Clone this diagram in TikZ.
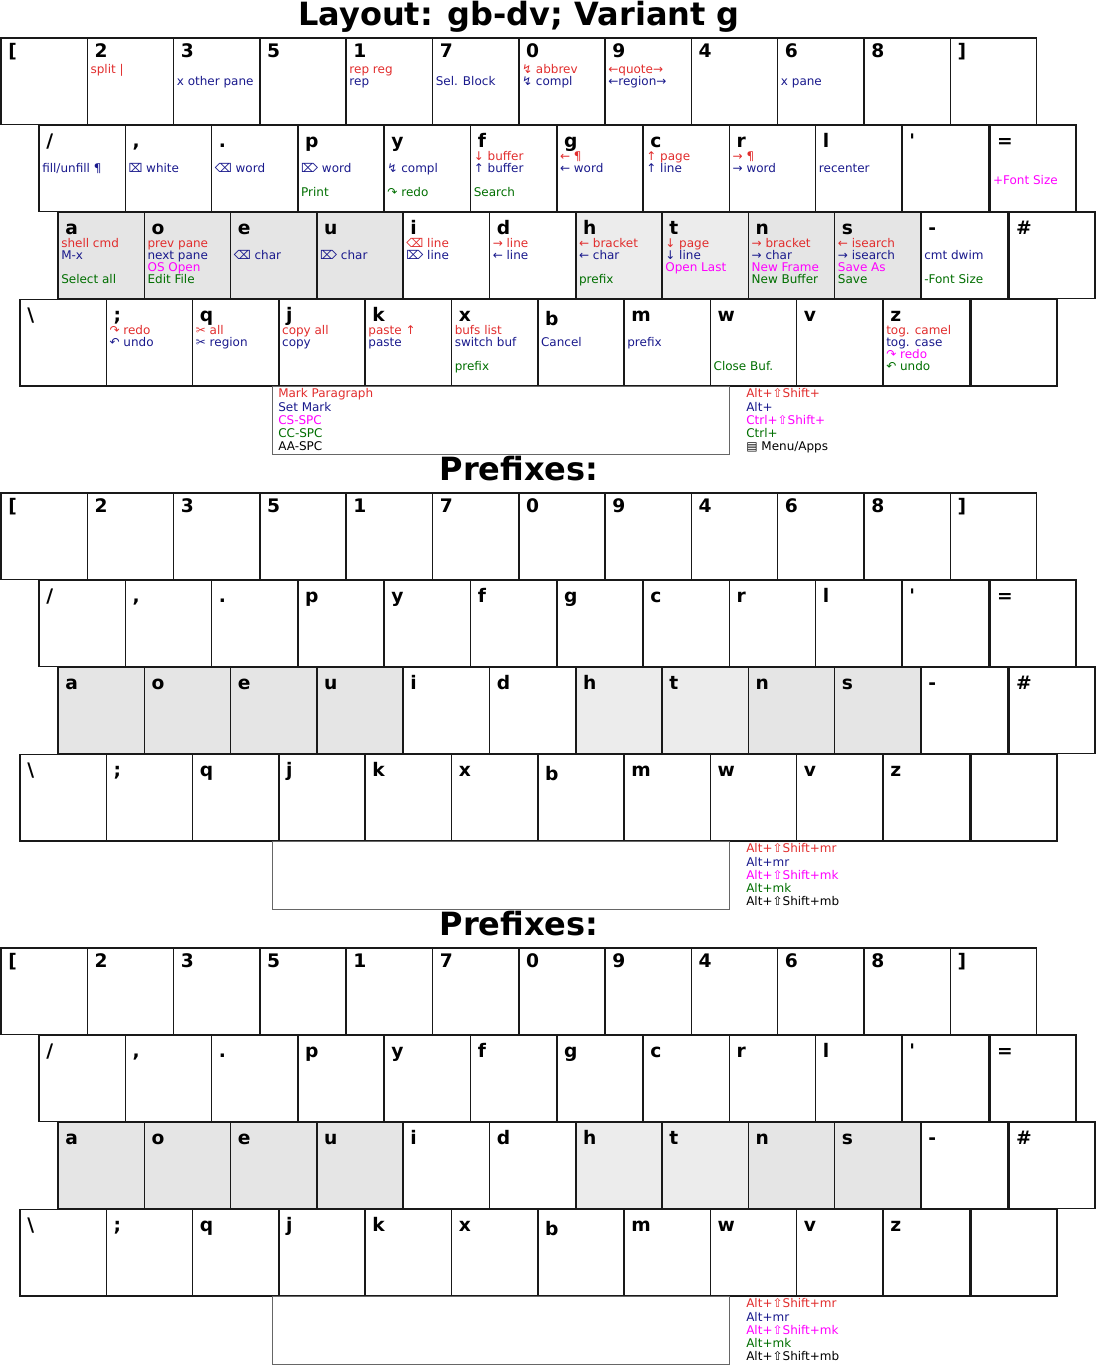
\documentclass[tikz,border=0pt]{standalone}
\usepackage{fontspec}
\setmainfont{DejaVu Sans}
\usetikzlibrary{positioning}
\definecolor{kred}{RGB}{225,45,45}
\definecolor{kblue}{RGB}{25,25,140}
\definecolor{kmag}{RGB}{255,0,255}
\definecolor{kgreen}{RGB}{0,110,0}
\definecolor{homea}{RGB}{229,229,229}
\definecolor{homeb}{RGB}{236,236,236}
% text line #2 of key #1
\newcommand{\ktext}[4]{%
  \node[keytext,#3] (#1-t#2) at ([shift={(3,23+12*#2)}]#1.north west) {#4};}

\begin{document}
\begin{tikzpicture}[x=0.75pt, y=-0.75pt,
  key/.style={draw=black!90, line width=1.1pt, minimum width=64.7pt,
    minimum height=64.9pt, inner sep=0pt, outer sep=0pt, anchor=north west},
  keylabel/.style={anchor=base west, inner sep=0pt,
    font=\bfseries\fontsize{14}{16}\selectfont},
  keytext/.style={anchor=base west, inner sep=0pt,
    font=\fontsize{9}{11}\selectfont},
  spacebar/.style={draw=black!60, line width=0.6pt, minimum width=342.8pt,
    minimum height=51pt, inner sep=0pt, anchor=north west},
  title/.style={anchor=base, inner sep=0pt,
    font=\bfseries\fontsize{24}{27}\selectfont}]
  \useasboundingbox (0,0) rectangle (1096,1365);

  % titles
  \node[title] (title) at (519,25) {Layout: gb-dv; Variant g};
  \node[title] (pre1) at (519,480) {Prefixes:};
  \node[title] (pre2) at (519,935) {Prefixes:};

  % three keyboards
  \foreach \s in {0,1,2}{
    \pgfmathsetmacro{\dy}{455*\s}
    \foreach \lab [count=\c] in {[,2,3,5,1,7,0,9,4,6,8,]}{
      \node[key] (k\s-1-\c) at ({1+86.3*(\c-1)},{38+\dy}) {};
      \node[keylabel] (k\s-1-\c-l) at ([shift={(7,19)}]k\s-1-\c.north west) {\lab};
    }
    \foreach \lab [count=\c] in {{/},{,},.,p,y,f,g,c,r,l,\textquotesingle,=}{
      \node[key] (k\s-2-\c) at ({39+86.3*(\c-1)+1.5*(\c==12)},{125+\dy}) {};
      \node[keylabel] (k\s-2-\c-l) at ([shift={(7,22)}]k\s-2-\c.north west) {\lab};
    }
    \foreach \lab/\f [count=\c] in {a/homea,o/homea,e/homea,u/homea,i/white,
        d/white,h/homeb,t/homeb,n/homea,s/homea,-/white,\#/white}{
      \node[key,fill=\f] (k\s-3-\c) at ({58+86.3*(\c-1)+1.5*(\c==12)},{212+\dy}) {};
      \node[keylabel] (k\s-3-\c-l) at ([shift={(7,22)}]k\s-3-\c.north west) {\lab};
    }
    \foreach \lab/\o [count=\c] in {\textbackslash/0,;/0,q/0,j/0,k/0,x/0,b/4,
        m/0,w/0,v/0,z/0,{}/0}{
      \node[key] (k\s-4-\c) at ({20+86.3*(\c-1)+1.5*(\c==12)},{299.5+\dy}) {};
      \node[keylabel] (k\s-4-\c-l) at ([shift={(7,22+\o)}]k\s-4-\c.north west) {\lab};
    }
    \node[spacebar] (sp\s) at (272,{386+\dy}) {};
  }

  % row 1
  \ktext{k0-1-2}{1}{kred}{split |}
  \ktext{k0-1-3}{2}{kblue}{x other pane}
  \ktext{k0-1-5}{1}{kred}{rep reg}
  \ktext{k0-1-5}{2}{kblue}{rep}
  \ktext{k0-1-6}{2}{kblue}{Sel. Block}
  \ktext{k0-1-7}{1}{kred}{↯ abbrev}
  \ktext{k0-1-7}{2}{kblue}{↯ compl}
  \ktext{k0-1-8}{1}{kred}{←quote→}
  \ktext{k0-1-8}{2}{kblue}{←region→}
  \ktext{k0-1-10}{2}{kblue}{x pane}
  % row 2
  \ktext{k0-2-1}{2}{kblue}{fill/unfill ¶}
  \ktext{k0-2-2}{2}{kblue}{⌧ white}
  \ktext{k0-2-3}{2}{kblue}{⌫ word}
  \ktext{k0-2-4}{2}{kblue}{⌦ word}
  \ktext{k0-2-4}{4}{kgreen}{Print}
  \ktext{k0-2-5}{2}{kblue}{↯ compl}
  \ktext{k0-2-5}{4}{kgreen}{↷ redo}
  \ktext{k0-2-6}{1}{kred}{↓ buffer}
  \ktext{k0-2-6}{2}{kblue}{↑ buffer}
  \ktext{k0-2-6}{4}{kgreen}{Search}
  \ktext{k0-2-7}{1}{kred}{← ¶}
  \ktext{k0-2-7}{2}{kblue}{← word}
  \ktext{k0-2-8}{1}{kred}{↑ page}
  \ktext{k0-2-8}{2}{kblue}{↑ line}
  \ktext{k0-2-9}{1}{kred}{→ ¶}
  \ktext{k0-2-9}{2}{kblue}{→ word}
  \ktext{k0-2-10}{2}{kblue}{recenter}
  \ktext{k0-2-12}{3}{kmag}{+Font Size}
  % row 3
  \ktext{k0-3-1}{1}{kred}{shell cmd}
  \ktext{k0-3-1}{2}{kblue}{M-x}
  \ktext{k0-3-1}{4}{kgreen}{Select all}
  \ktext{k0-3-2}{1}{kred}{prev pane}
  \ktext{k0-3-2}{2}{kblue}{next pane}
  \ktext{k0-3-2}{3}{kmag}{OS Open}
  \ktext{k0-3-2}{4}{kgreen}{Edit File}
  \ktext{k0-3-3}{2}{kblue}{⌫ char}
  \ktext{k0-3-4}{2}{kblue}{⌦ char}
  \ktext{k0-3-5}{1}{kred}{⌫ line}
  \ktext{k0-3-5}{2}{kblue}{⌦ line}
  \ktext{k0-3-6}{1}{kred}{→ line}
  \ktext{k0-3-6}{2}{kblue}{← line}
  \ktext{k0-3-7}{1}{kred}{← bracket}
  \ktext{k0-3-7}{2}{kblue}{← char}
  \ktext{k0-3-7}{4}{kgreen}{prefix}
  \ktext{k0-3-8}{1}{kred}{↓ page}
  \ktext{k0-3-8}{2}{kblue}{↓ line}
  \ktext{k0-3-8}{3}{kmag}{Open Last}
  \ktext{k0-3-9}{1}{kred}{→ bracket}
  \ktext{k0-3-9}{2}{kblue}{→ char}
  \ktext{k0-3-9}{3}{kmag}{New Frame}
  \ktext{k0-3-9}{4}{kgreen}{New Buffer}
  \ktext{k0-3-10}{1}{kred}{← isearch}
  \ktext{k0-3-10}{2}{kblue}{→ isearch}
  \ktext{k0-3-10}{3}{kmag}{Save As}
  \ktext{k0-3-10}{4}{kgreen}{Save}
  \ktext{k0-3-11}{2}{kblue}{cmt dwim}
  \ktext{k0-3-11}{4}{kgreen}{-Font Size}
  % row 4
  \ktext{k0-4-2}{1}{kred}{↷ redo}
  \ktext{k0-4-2}{2}{kblue}{↶ undo}
  \ktext{k0-4-3}{1}{kred}{✂ all}
  \ktext{k0-4-3}{2}{kblue}{✂ region}
  \ktext{k0-4-4}{1}{kred}{copy all}
  \ktext{k0-4-4}{2}{kblue}{copy}
  \ktext{k0-4-5}{1}{kred}{paste ↑}
  \ktext{k0-4-5}{2}{kblue}{paste}
  \ktext{k0-4-6}{1}{kred}{bufs list}
  \ktext{k0-4-6}{2}{kblue}{switch buf}
  \ktext{k0-4-6}{4}{kgreen}{prefix}
  \ktext{k0-4-7}{2}{kblue}{Cancel}
  \ktext{k0-4-8}{2}{kblue}{prefix}
  \ktext{k0-4-9}{4}{kgreen}{Close Buf.}
  \ktext{k0-4-11}{1}{kred}{tog. camel}
  \ktext{k0-4-11}{2}{kblue}{tog. case}
  \ktext{k0-4-11}{3}{kmag}{↷ redo}
  \ktext{k0-4-11}{4}{kgreen}{↶ undo}

  % space bar and modifier legend
  \node[keytext,kred] (sp0-1) at (278,397) {Mark Paragraph};
  \node[keytext,kblue] (sp0-2) at (278,411) {Set Mark};
  \node[keytext,kmag] (sp0-3) at (278,424) {CS-SPC};
  \node[keytext,kgreen] (sp0-4) at (278,437) {CC-SPC};
  \node[keytext] (sp0-5) at (278,450) {AA-SPC};
  \node[keytext,kred] (lg0-1) at (746,397) {Alt+⇧Shift+};
  \node[keytext,kblue] (lg0-2) at (746,411) {Alt+};
  \node[keytext,kmag] (lg0-3) at (746,424) {Ctrl+⇧Shift+};
  \node[keytext,kgreen] (lg0-4) at (746,437) {Ctrl+};
  \node[keytext] (lg0-5) at (746,450) {▤ Menu/Apps};
  \foreach \s in {1,2}{
    \pgfmathsetmacro{\dy}{455*\s}
    \node[keytext,kred] (lg\s-1) at (746,{397+\dy}) {Alt+⇧Shift+mr};
    \node[keytext,kblue] (lg\s-2) at (746,{411+\dy}) {Alt+mr};
    \node[keytext,kmag] (lg\s-3) at (746,{424+\dy}) {Alt+⇧Shift+mk};
    \node[keytext,kgreen] (lg\s-4) at (746,{437+\dy}) {Alt+mk};
    \node[keytext] (lg\s-5) at (746,{450+\dy}) {Alt+⇧Shift+mb};
  }
\end{tikzpicture}
\end{document}
